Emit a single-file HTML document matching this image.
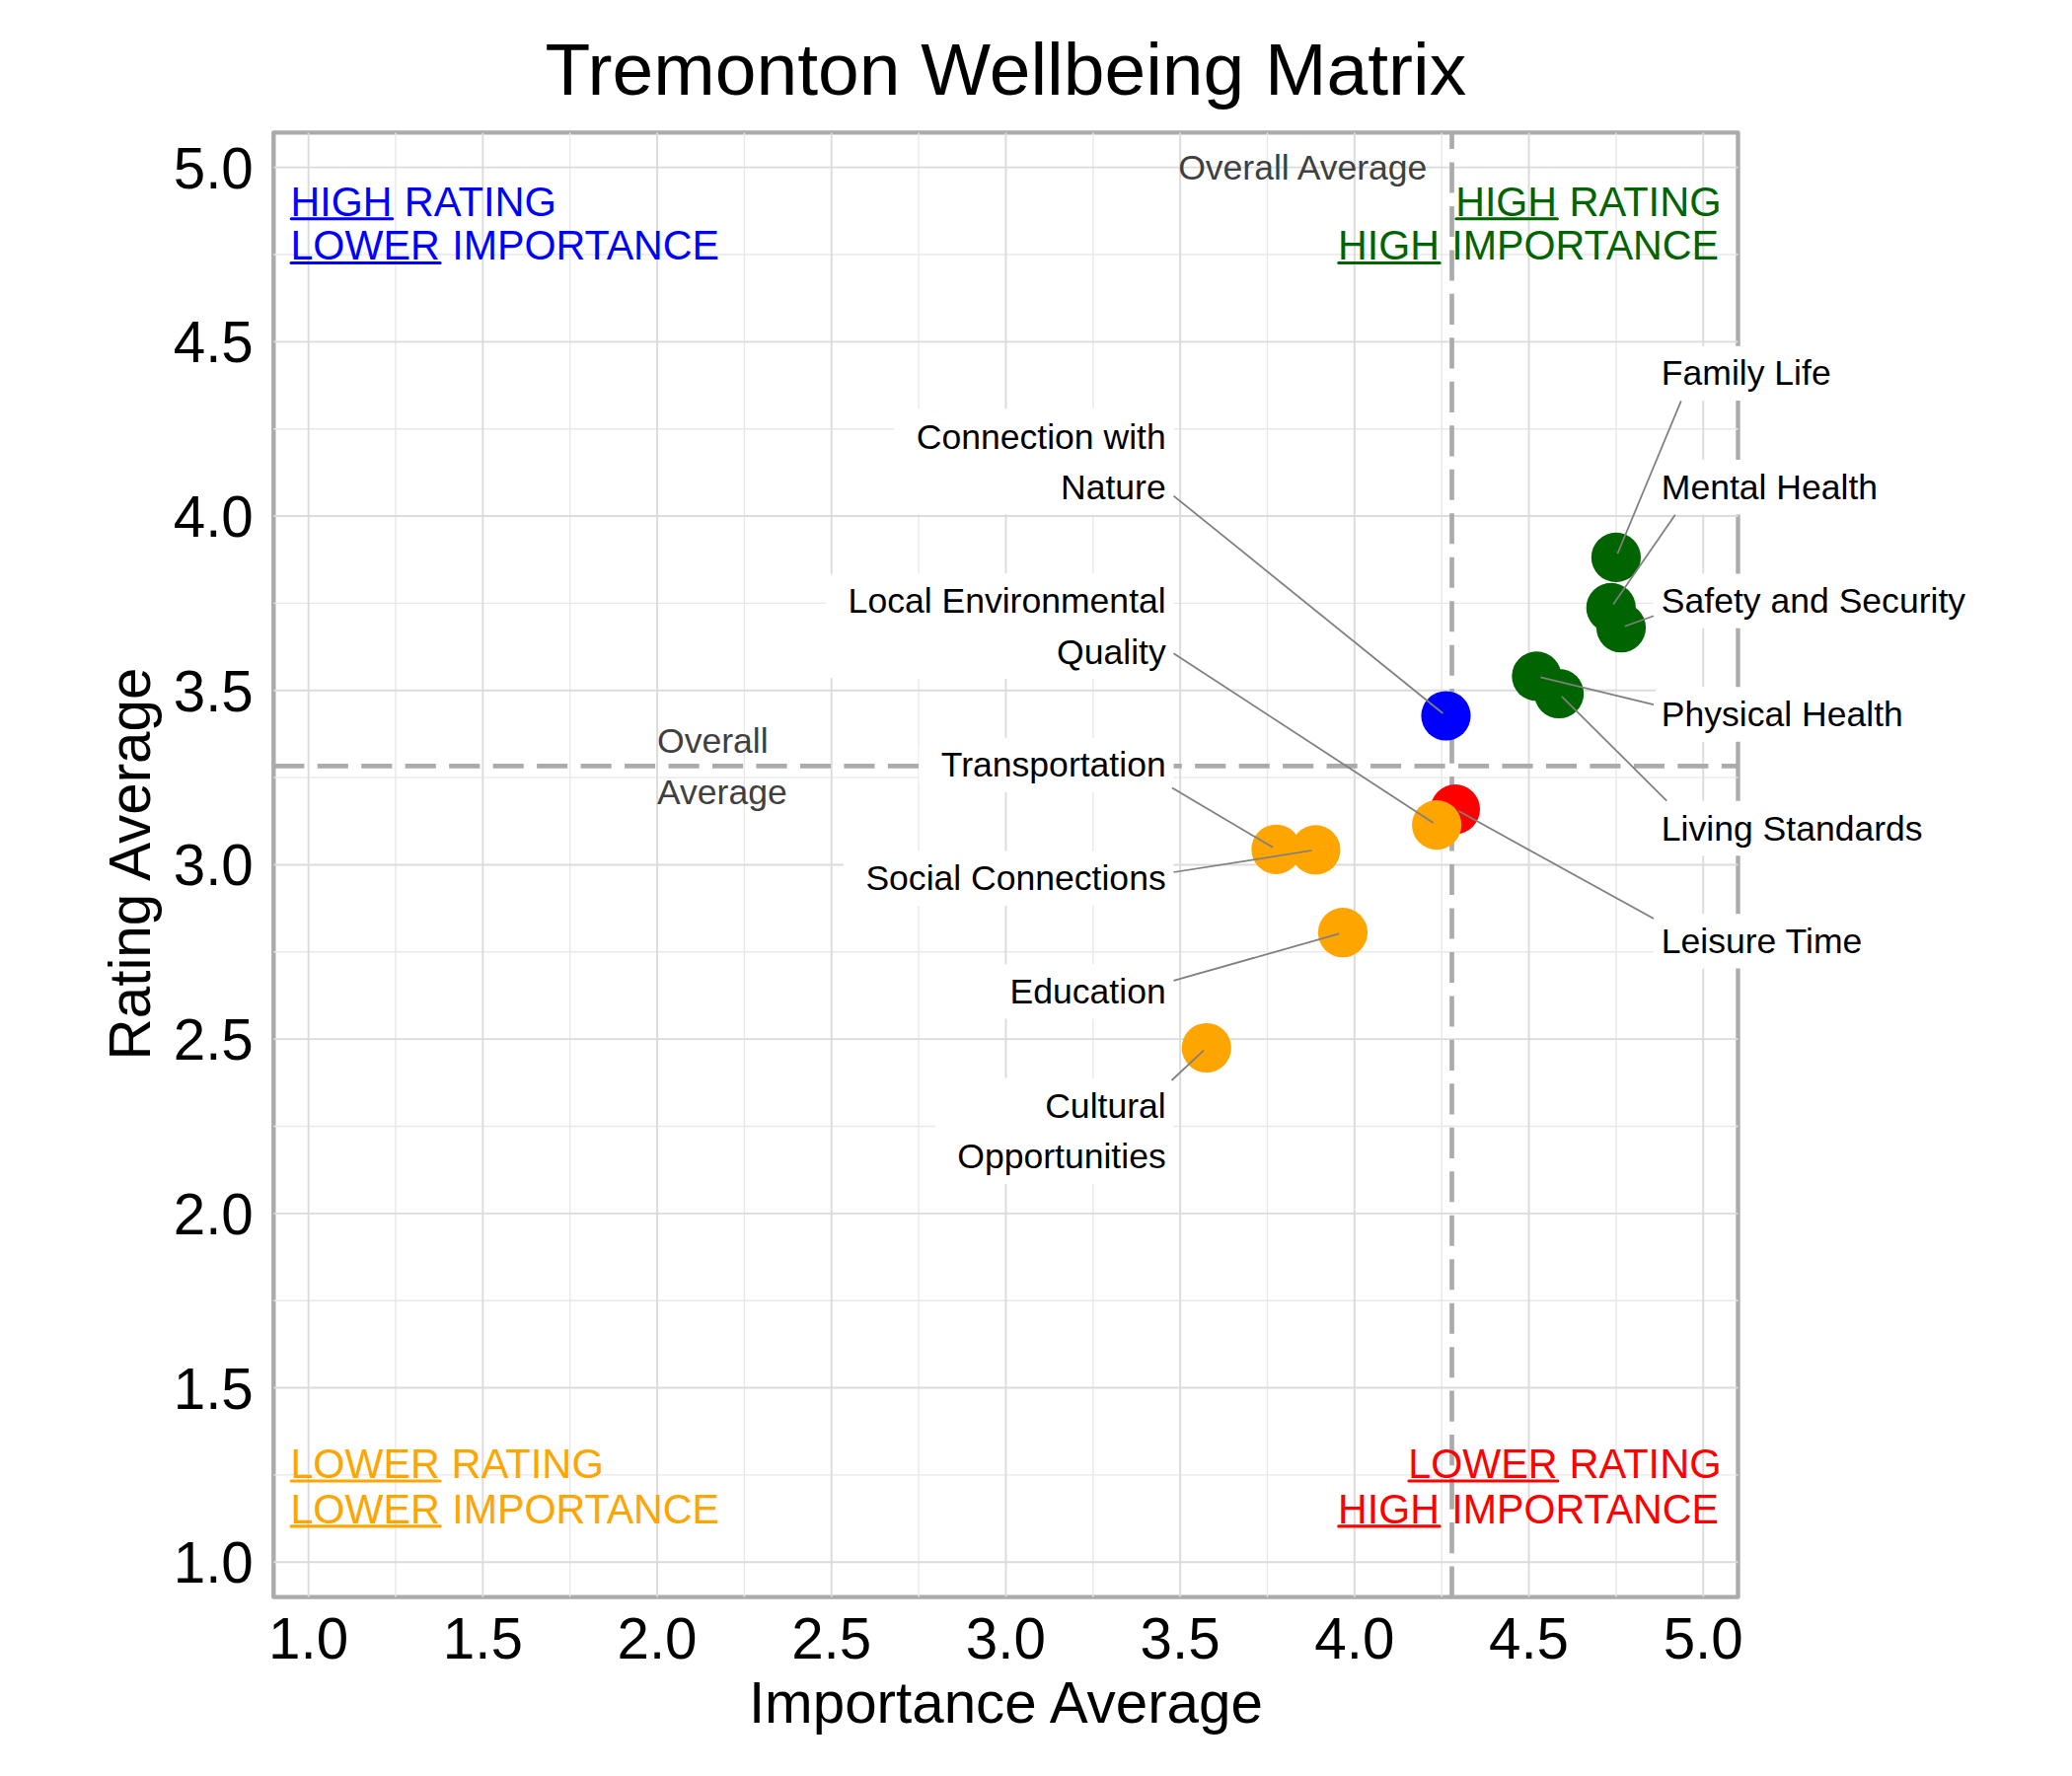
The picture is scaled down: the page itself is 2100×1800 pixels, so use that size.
<!DOCTYPE html>
<html lang="en"><head><meta charset="utf-8"><title>Tremonton Wellbeing Matrix</title>
<style>html,body{margin:0;padding:0;background:#fff;}svg{display:block;}text{font-family:"Liberation Sans",sans-serif;font-kerning:normal;}</style>
</head><body>
<svg width="2100" height="1800" viewBox="0 0 2100 1800">
<rect x="0" y="0" width="2100" height="1800" fill="#fff"/>
<rect x="277.3" y="134.4" width="1484.2" height="1484.2" fill="#fff" stroke="#ABABAB" stroke-width="4.4" stroke-linejoin="round"/>
<g stroke="#DEDEDE" fill="none" stroke-linecap="butt">
<g stroke-width="1.4" stroke="#E8E8E8">
<path d="M400.99 134.4V1618.6"/>
<path d="M277.3 1494.91H1761.5"/>
<path d="M577.69 134.4V1618.6"/>
<path d="M277.3 1318.21H1761.5"/>
<path d="M754.39 134.4V1618.6"/>
<path d="M277.3 1141.51H1761.5"/>
<path d="M931.09 134.4V1618.6"/>
<path d="M277.3 964.81H1761.5"/>
<path d="M1107.79 134.4V1618.6"/>
<path d="M277.3 788.11H1761.5"/>
<path d="M1284.49 134.4V1618.6"/>
<path d="M277.3 611.41H1761.5"/>
<path d="M1461.19 134.4V1618.6"/>
<path d="M277.3 434.71H1761.5"/>
<path d="M1637.89 134.4V1618.6"/>
<path d="M277.3 258.01H1761.5"/>
</g>
<g stroke-width="1.9" stroke="#DBDBDB">
<path d="M312.64 134.4V1618.6"/>
<path d="M277.3 1583.26H1761.5"/>
<path d="M489.34 134.4V1618.6"/>
<path d="M277.3 1406.56H1761.5"/>
<path d="M666.04 134.4V1618.6"/>
<path d="M277.3 1229.86H1761.5"/>
<path d="M842.74 134.4V1618.6"/>
<path d="M277.3 1053.16H1761.5"/>
<path d="M1019.44 134.4V1618.6"/>
<path d="M277.3 876.46H1761.5"/>
<path d="M1196.14 134.4V1618.6"/>
<path d="M277.3 699.76H1761.5"/>
<path d="M1372.84 134.4V1618.6"/>
<path d="M277.3 523.06H1761.5"/>
<path d="M1549.54 134.4V1618.6"/>
<path d="M277.3 346.36H1761.5"/>
<path d="M1726.24 134.4V1618.6"/>
<path d="M277.3 169.66H1761.5"/>
</g>
</g>
<path d="M277.3 776.3H1761.5" stroke="#ABABAB" stroke-width="4.7" stroke-dasharray="31.1 13.37" fill="none"/>
<path d="M1471.5 1618.6V134.4" stroke="#ABABAB" stroke-width="4.7" stroke-dasharray="31.1 13.37" fill="none"/>
<g fill="#404040" font-size="35.56">
<text x="1446.4" y="181.7" text-anchor="end">Overall Average</text>
<text x="666" y="762.9">Overall</text>
<text x="666" y="814.7">Average</text>
</g>
<g fill="#0000FF" font-size="41.6">
<text transform="translate(294.53 218.6) scale(1 1.04)" textLength="102.83" lengthAdjust="spacingAndGlyphs">HIGH</text>
<path d="M295.23 221.70h102.43" stroke="#0000FF" stroke-width="3.1" stroke-linecap="round" fill="none"/>
<text transform="translate(409.78 218.6) scale(1 1.04)" textLength="154.23" lengthAdjust="spacingAndGlyphs">RATING</text>
<text transform="translate(294.41 263.4) scale(1 1.04)" textLength="151.40" lengthAdjust="spacingAndGlyphs">LOWER</text>
<path d="M295.11 266.50h151.00" stroke="#0000FF" stroke-width="3.1" stroke-linecap="round" fill="none"/>
<text transform="translate(458.30 263.4) scale(1 1.04)" textLength="270.77" lengthAdjust="spacingAndGlyphs">IMPORTANCE</text>
</g>
<g fill="#006400" font-size="41.6">
<text transform="translate(1475.23 218.6) scale(1 1.04)" textLength="102.83" lengthAdjust="spacingAndGlyphs">HIGH</text>
<path d="M1475.93 221.70h102.43" stroke="#006400" stroke-width="3.1" stroke-linecap="round" fill="none"/>
<text transform="translate(1590.38 218.6) scale(1 1.04)" textLength="154.23" lengthAdjust="spacingAndGlyphs">RATING</text>
<text transform="translate(1356.03 263.4) scale(1 1.04)" textLength="102.83" lengthAdjust="spacingAndGlyphs">HIGH</text>
<path d="M1356.73 266.50h102.43" stroke="#006400" stroke-width="3.1" stroke-linecap="round" fill="none"/>
<text transform="translate(1471.30 263.4) scale(1 1.04)" textLength="270.77" lengthAdjust="spacingAndGlyphs">IMPORTANCE</text>
</g>
<g fill="#FFA500" font-size="41.6">
<text transform="translate(294.41 1497.9) scale(1 1.04)" textLength="151.40" lengthAdjust="spacingAndGlyphs">LOWER</text>
<path d="M295.11 1501.00h151.00" stroke="#FFA500" stroke-width="3.1" stroke-linecap="round" fill="none"/>
<text transform="translate(457.58 1497.9) scale(1 1.04)" textLength="154.23" lengthAdjust="spacingAndGlyphs">RATING</text>
<text transform="translate(294.41 1543.8) scale(1 1.04)" textLength="151.40" lengthAdjust="spacingAndGlyphs">LOWER</text>
<path d="M295.11 1546.90h151.00" stroke="#FFA500" stroke-width="3.1" stroke-linecap="round" fill="none"/>
<text transform="translate(458.30 1543.8) scale(1 1.04)" textLength="270.77" lengthAdjust="spacingAndGlyphs">IMPORTANCE</text>
</g>
<g fill="#FF0000" font-size="41.6">
<text transform="translate(1427.21 1497.9) scale(1 1.04)" textLength="151.40" lengthAdjust="spacingAndGlyphs">LOWER</text>
<path d="M1427.91 1501.00h151.00" stroke="#FF0000" stroke-width="3.1" stroke-linecap="round" fill="none"/>
<text transform="translate(1590.38 1497.9) scale(1 1.04)" textLength="154.23" lengthAdjust="spacingAndGlyphs">RATING</text>
<text transform="translate(1356.03 1543.8) scale(1 1.04)" textLength="102.83" lengthAdjust="spacingAndGlyphs">HIGH</text>
<path d="M1356.73 1546.90h102.43" stroke="#FF0000" stroke-width="3.1" stroke-linecap="round" fill="none"/>
<text transform="translate(1471.30 1543.8) scale(1 1.04)" textLength="270.77" lengthAdjust="spacingAndGlyphs">IMPORTANCE</text>
</g>
<g stroke="none">
<circle cx="1474.9" cy="820.2" r="25.1" fill="#FF0000"/>
<circle cx="1456.1" cy="836.1" r="25.1" fill="#FFA500"/>
<circle cx="1465.5" cy="725.5" r="25.1" fill="#0000FF"/>
<circle cx="1637.9" cy="564.9" r="25.1" fill="#006400"/>
<circle cx="1632.8" cy="615.9" r="25.1" fill="#006400"/>
<circle cx="1643.0" cy="636.2" r="25.1" fill="#006400"/>
<circle cx="1557.4" cy="685.4" r="25.1" fill="#006400"/>
<circle cx="1580.1" cy="703.0" r="25.1" fill="#006400"/>
<circle cx="1293.4" cy="860.8" r="25.1" fill="#FFA500"/>
<circle cx="1333.4" cy="861.4" r="25.1" fill="#FFA500"/>
<circle cx="1360.95" cy="945.2" r="25.1" fill="#FFA500"/>
<circle cx="1222.8" cy="1062.0" r="25.1" fill="#FFA500"/>
</g>
<g fill="#fff" stroke="none">
<rect x="1676.0" y="350.7" width="201.9" height="55.4" rx="9" ry="9"/>
<rect x="1676.0" y="466.1" width="249.4" height="55.4" rx="9" ry="9"/>
<rect x="1676.0" y="581.4" width="338.4" height="55.4" rx="9" ry="9"/>
<rect x="1676.0" y="696.3" width="275.1" height="55.4" rx="9" ry="9"/>
<rect x="1676.0" y="811.8" width="294.9" height="55.4" rx="9" ry="9"/>
<rect x="1676.0" y="926.2" width="233.6" height="55.4" rx="9" ry="9"/>
<rect x="906.5" y="414.3" width="283.0" height="107.0" rx="9" ry="9"/>
<rect x="837.3" y="581.0" width="352.2" height="107.0" rx="9" ry="9"/>
<rect x="931.5" y="747.7" width="258.0" height="55.4" rx="9" ry="9"/>
<rect x="855.1" y="862.7" width="334.4" height="55.4" rx="9" ry="9"/>
<rect x="1001.3" y="977.2" width="188.2" height="55.4" rx="9" ry="9"/>
<rect x="948.0" y="1092.7" width="241.5" height="107.0" rx="9" ry="9"/>
</g>
<g stroke="#7F7F7F" stroke-width="1.75" fill="none" stroke-linecap="butt">
<path d="M1703.8 406.3L1639.4 561.2"/>
<path d="M1697.8 521.7L1635.1 612.6"/>
<path d="M1676.0 624.2L1646.8 634.8"/>
<path d="M1676.0 714.2L1561.3 686.3"/>
<path d="M1689.2 811.6L1582.9 705.8"/>
<path d="M1676.0 931.1L1478.4 822.1"/>
<path d="M1189.5 502.6L1462.4 723.0"/>
<path d="M1189.5 662.2L1452.7 833.9"/>
<path d="M1188.0 798.5L1290.0 858.8"/>
<path d="M1189.5 884.0L1329.4 862.0"/>
<path d="M1189.5 993.9L1357.1 946.3"/>
<path d="M1187.5 1095.0L1219.9 1064.7"/>
</g>
<g fill="#000" font-size="35.56">
<text x="1683.8" y="390.4">Family Life</text>
<text x="1683.8" y="505.8">Mental Health</text>
<text x="1683.8" y="621.1">Safety and Security</text>
<text x="1683.8" y="736.0">Physical Health</text>
<text x="1683.8" y="851.5">Living Standards</text>
<text x="1683.8" y="965.9">Leisure Time</text>
<text x="1181.7" y="454.6" text-anchor="end">Connection with</text>
<text x="1181.7" y="505.9" text-anchor="end">Nature</text>
<text x="1181.7" y="621.3" text-anchor="end">Local Environmental</text>
<text x="1181.7" y="672.6" text-anchor="end">Quality</text>
<text x="1181.7" y="787.4" text-anchor="end">Transportation</text>
<text x="1181.7" y="902.4" text-anchor="end">Social Connections</text>
<text x="1181.7" y="1016.9" text-anchor="end">Education</text>
<text x="1181.7" y="1133.0" text-anchor="end">Cultural</text>
<text x="1181.7" y="1184.3" text-anchor="end">Opportunities</text>
</g>
<g fill="#000" font-size="58.33">
<text x="312.6" y="1680.8" text-anchor="middle">1.0</text>
<text x="489.3" y="1680.8" text-anchor="middle">1.5</text>
<text x="666.0" y="1680.8" text-anchor="middle">2.0</text>
<text x="842.7" y="1680.8" text-anchor="middle">2.5</text>
<text x="1019.4" y="1680.8" text-anchor="middle">3.0</text>
<text x="1196.1" y="1680.8" text-anchor="middle">3.5</text>
<text x="1372.8" y="1680.8" text-anchor="middle">4.0</text>
<text x="1549.5" y="1680.8" text-anchor="middle">4.5</text>
<text x="1726.2" y="1680.8" text-anchor="middle">5.0</text>
<text x="256.8" y="1604.2" text-anchor="end">1.0</text>
<text x="256.8" y="1427.5" text-anchor="end">1.5</text>
<text x="256.8" y="1250.8" text-anchor="end">2.0</text>
<text x="256.8" y="1074.1" text-anchor="end">2.5</text>
<text x="256.8" y="897.4" text-anchor="end">3.0</text>
<text x="256.8" y="720.7" text-anchor="end">3.5</text>
<text x="256.8" y="544.0" text-anchor="end">4.0</text>
<text x="256.8" y="367.3" text-anchor="end">4.5</text>
<text x="256.8" y="190.6" text-anchor="end">5.0</text>
<text x="1019.4" y="1746.4" text-anchor="middle">Importance Average</text>
<text transform="translate(151.8 875.5) rotate(-90)" text-anchor="middle">Rating Average</text>
</g>
<text x="1019.4" y="96" text-anchor="middle" font-size="75" fill="#000">Tremonton Wellbeing Matrix</text>
</svg>
</body></html>
